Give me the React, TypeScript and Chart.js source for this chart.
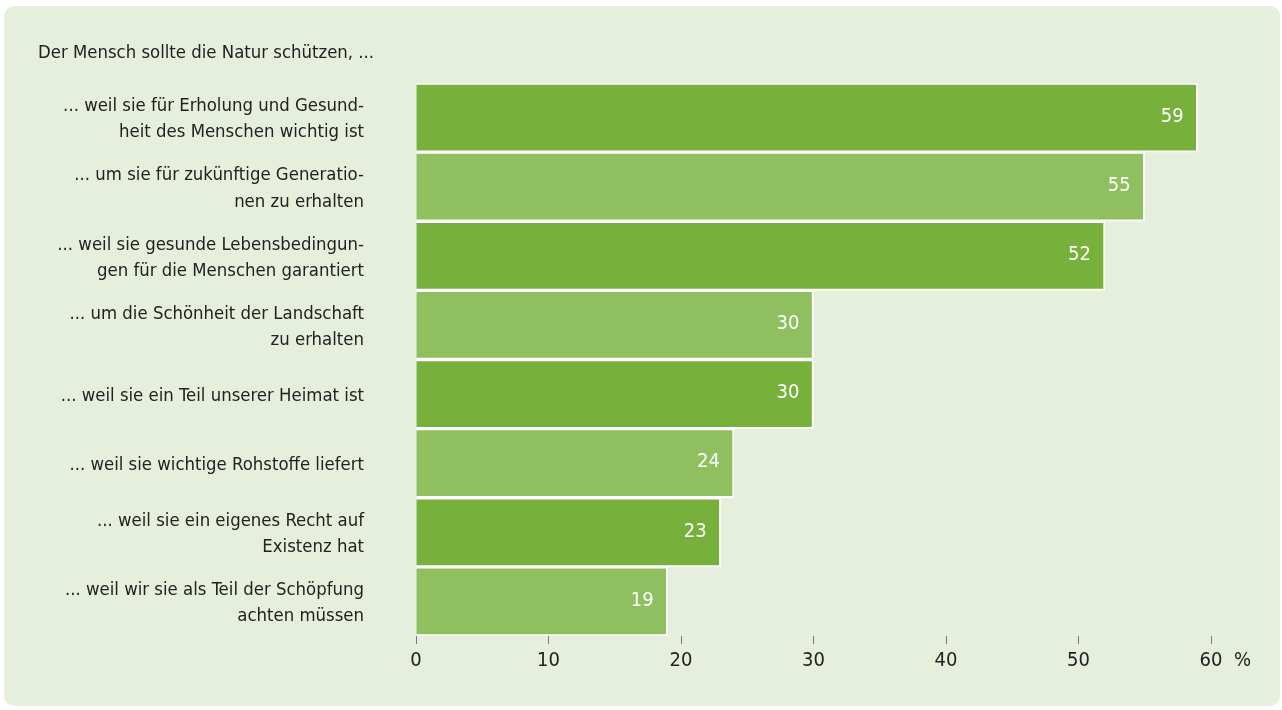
import React, { useEffect, useRef } from "react";
import { Chart, registerables } from "chart.js";

Chart.register(...registerables);

const titleText = "Der Mensch sollte die Natur schützen, ...";
const categories: string[][] = [
  ["... weil sie für Erholung und Gesund-", "heit des Menschen wichtig ist"],
  ["... um sie für zukünftige Generatio-", "nen zu erhalten"],
  ["... weil sie gesunde Lebensbedingun-", "gen für die Menschen garantiert"],
  ["... um die Schönheit der Landschaft", "zu erhalten"],
  ["... weil sie ein Teil unserer Heimat ist"],
  ["... weil sie wichtige Rohstoffe liefert"],
  ["... weil sie ein eigenes Recht auf", "Existenz hat"],
  ["... weil wir sie als Teil der Schöpfung", "achten müssen"],
];
const values: number[] = [59, 55, 52, 30, 30, 24, 23, 19];
const barColors: string[] = ["#77b13b", "#8fbf5f", "#77b13b", "#8fbf5f", "#77b13b", "#8fbf5f", "#77b13b", "#8fbf5f"];
const xTicks: number[] = [0, 10, 20, 30, 40, 50, 60];
const unitLabel = "%";

const FONT = "'Liberation Sans Narrow', 'DejaVu Sans Condensed', Roboto, sans-serif";

const overlayPlugin = {
  id: "overlay",
  afterDatasetsDraw(chart: any) {
    const ctx = chart.ctx;
    const meta = chart.getDatasetMeta(0);
    ctx.save();
    ctx.fillStyle = "#ffffff";
    ctx.font = `20px ${FONT}`;
    ctx.textAlign = "right";
    ctx.textBaseline = "middle";
    meta.data.forEach((bar: any, i: number) => {
      ctx.fillText(String(values[i]), bar.x - 14, bar.y - 1);
    });
    ctx.restore();
  },
  afterDraw(chart: any) {
    const ctx = chart.ctx;
    ctx.save();
    ctx.fillStyle = "#222222";
    ctx.font = `18.4px ${FONT}`;
    ctx.textAlign = "left";
    ctx.textBaseline = "middle";
    ctx.fillText(titleText, 38, 53);
    const xs = chart.scales.x;
    ctx.font = `20px ${FONT}`;
    ctx.fillText(unitLabel, xs.getPixelForValue(60) + 23, 661);
    ctx.restore();
  },
};

export default function App() {
  const ref = useRef<HTMLCanvasElement | null>(null);
  useEffect(() => {
    if (!ref.current) return;
    const chart = new Chart(ref.current, {
      type: "bar",
      data: {
        labels: categories,
        datasets: [
          {
            data: values,
            backgroundColor: barColors,
            borderColor: "#ffffff",
            borderWidth: 2,
            barPercentage: 1,
            categoryPercentage: 1,
          },
        ],
      },
      options: {
        indexAxis: "y",
        animation: false,
        responsive: false,
        maintainAspectRatio: false,
        layout: { padding: { top: 83, right: 71, left: 0, bottom: 0 } },
        plugins: { legend: { display: false }, tooltip: { enabled: false } },
        scales: {
          x: {
            min: 0,
            max: 60,
            afterBuildTicks: (scale: any) => {
              scale.ticks = xTicks.map((v) => ({ value: v }));
            },
            afterFit: (scale: any) => {
              scale.height = 74;
            },
            border: { display: false },
            grid: {
              drawOnChartArea: false,
              drawTicks: true,
              tickLength: 8,
              tickColor: "#777777",
              lineWidth: 1,
            },
            ticks: {
              color: "#222222",
              font: { family: FONT, size: 20 },
              padding: 5,
              maxRotation: 0,
            },
          },
          y: {
            afterFit: (scale: any) => {
              scale.width = 416;
            },
            border: { display: false },
            grid: { display: false },
            ticks: {
              color: "#222222",
              font: { family: FONT, size: 18.4, lineHeight: 1.42 },
              padding: 44,
              labelOffset: 2,
              autoSkip: false,
            },
          },
        },
      },
      plugins: [overlayPlugin],
    });
    return () => chart.destroy();
  }, []);

  return (
    <div style={{ position: "absolute", left: 0, top: 0, width: 1282, height: 710, background: "#ffffff" }}>
      <div
        style={{
          position: "absolute",
          left: 4,
          top: 6,
          width: 1276,
          height: 700,
          background: "#e6efdb",
          borderRadius: 10,
        }}
      />
      <canvas ref={ref} width={1282} height={710} style={{ position: "absolute", left: 0, top: 0, width: 1282, height: 710 }} />
    </div>
  );
}
